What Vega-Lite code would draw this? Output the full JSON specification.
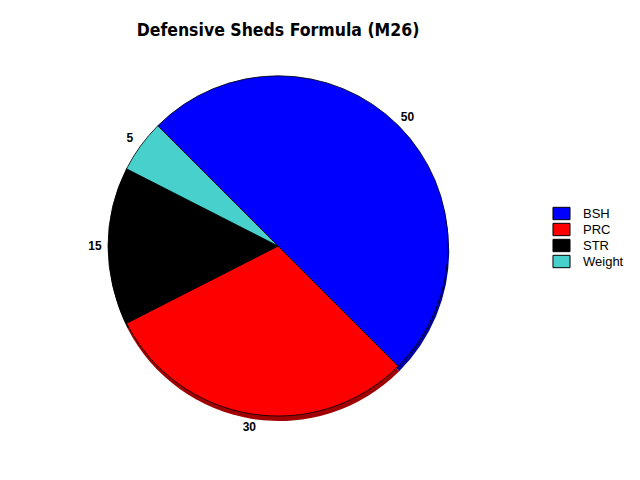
{
  "$schema": "https://vega.github.io/schema/vega-lite/v6.json",
  "autosize": "none",
  "width": 556,
  "height": 372,
  "padding": {"left": 0, "top": 60, "right": 84, "bottom": 48},
  "background": "white",
  "title": {
    "text": "Defensive Sheds Formula (M26)",
    "font": "DejaVu Sans Condensed",
    "fontSize": 17.5,
    "fontWeight": "bold",
    "color": "black",
    "anchor": "middle",
    "offset": 21
  },
  "data": {
    "values": [
      {"category": "BSH", "value": 50, "ord": 1},
      {"category": "PRC", "value": 30, "ord": 2},
      {"category": "STR", "value": 15, "ord": 3},
      {"category": "Weight", "value": 5, "ord": 4}
    ]
  },
  "encoding": {
    "theta": {
      "field": "value",
      "type": "quantitative",
      "stack": true,
      "scale": {"range": [-0.7854, 5.4978]}
    },
    "order": {"field": "ord", "type": "quantitative"}
  },
  "layer": [
    {
      "mark": {"type": "arc", "outerRadius": 170, "yOffset": 5, "xOffset": 1},
      "encoding": {
        "color": {
          "field": "category",
          "type": "nominal",
          "scale": {
            "domain": ["BSH", "PRC", "STR", "Weight"],
            "range": ["#0000A0", "#A00000", "#000000", "#2E8A86"]
          },
          "legend": null
        }
      }
    },
    {
      "mark": {"type": "arc", "outerRadius": 170, "stroke": "black", "strokeWidth": 0.8},
      "encoding": {
        "color": {
          "field": "category",
          "type": "nominal",
          "scale": {
            "domain": ["BSH", "PRC", "STR", "Weight"],
            "range": ["#0000FF", "#FF0000", "#000000", "#48D1CC"]
          },
          "legend": {
            "title": null,
            "orient": "none",
            "legendX": 555,
            "legendY": 147,
            "symbolType": "M-1.42,-1.03H1.42V1.03H-1.42Z",
            "symbolSize": 144,
            "symbolStrokeColor": "black",
            "symbolStrokeWidth": 1,
            "rowPadding": -1,
            "labelOffset": 15,
            "labelFont": "Liberation Sans",
            "labelFontSize": 13,
            "labelColor": "black"
          }
        }
      }
    },
    {
      "mark": {
        "type": "text",
        "radius": 183,
        "font": "Liberation Sans",
        "fontSize": 12,
        "fontWeight": "bold",
        "color": "black"
      },
      "encoding": {
        "text": {"field": "value", "type": "quantitative"}
      }
    }
  ],
  "resolve": {"scale": {"color": "independent"}},
  "config": {"view": {"stroke": null}}
}
